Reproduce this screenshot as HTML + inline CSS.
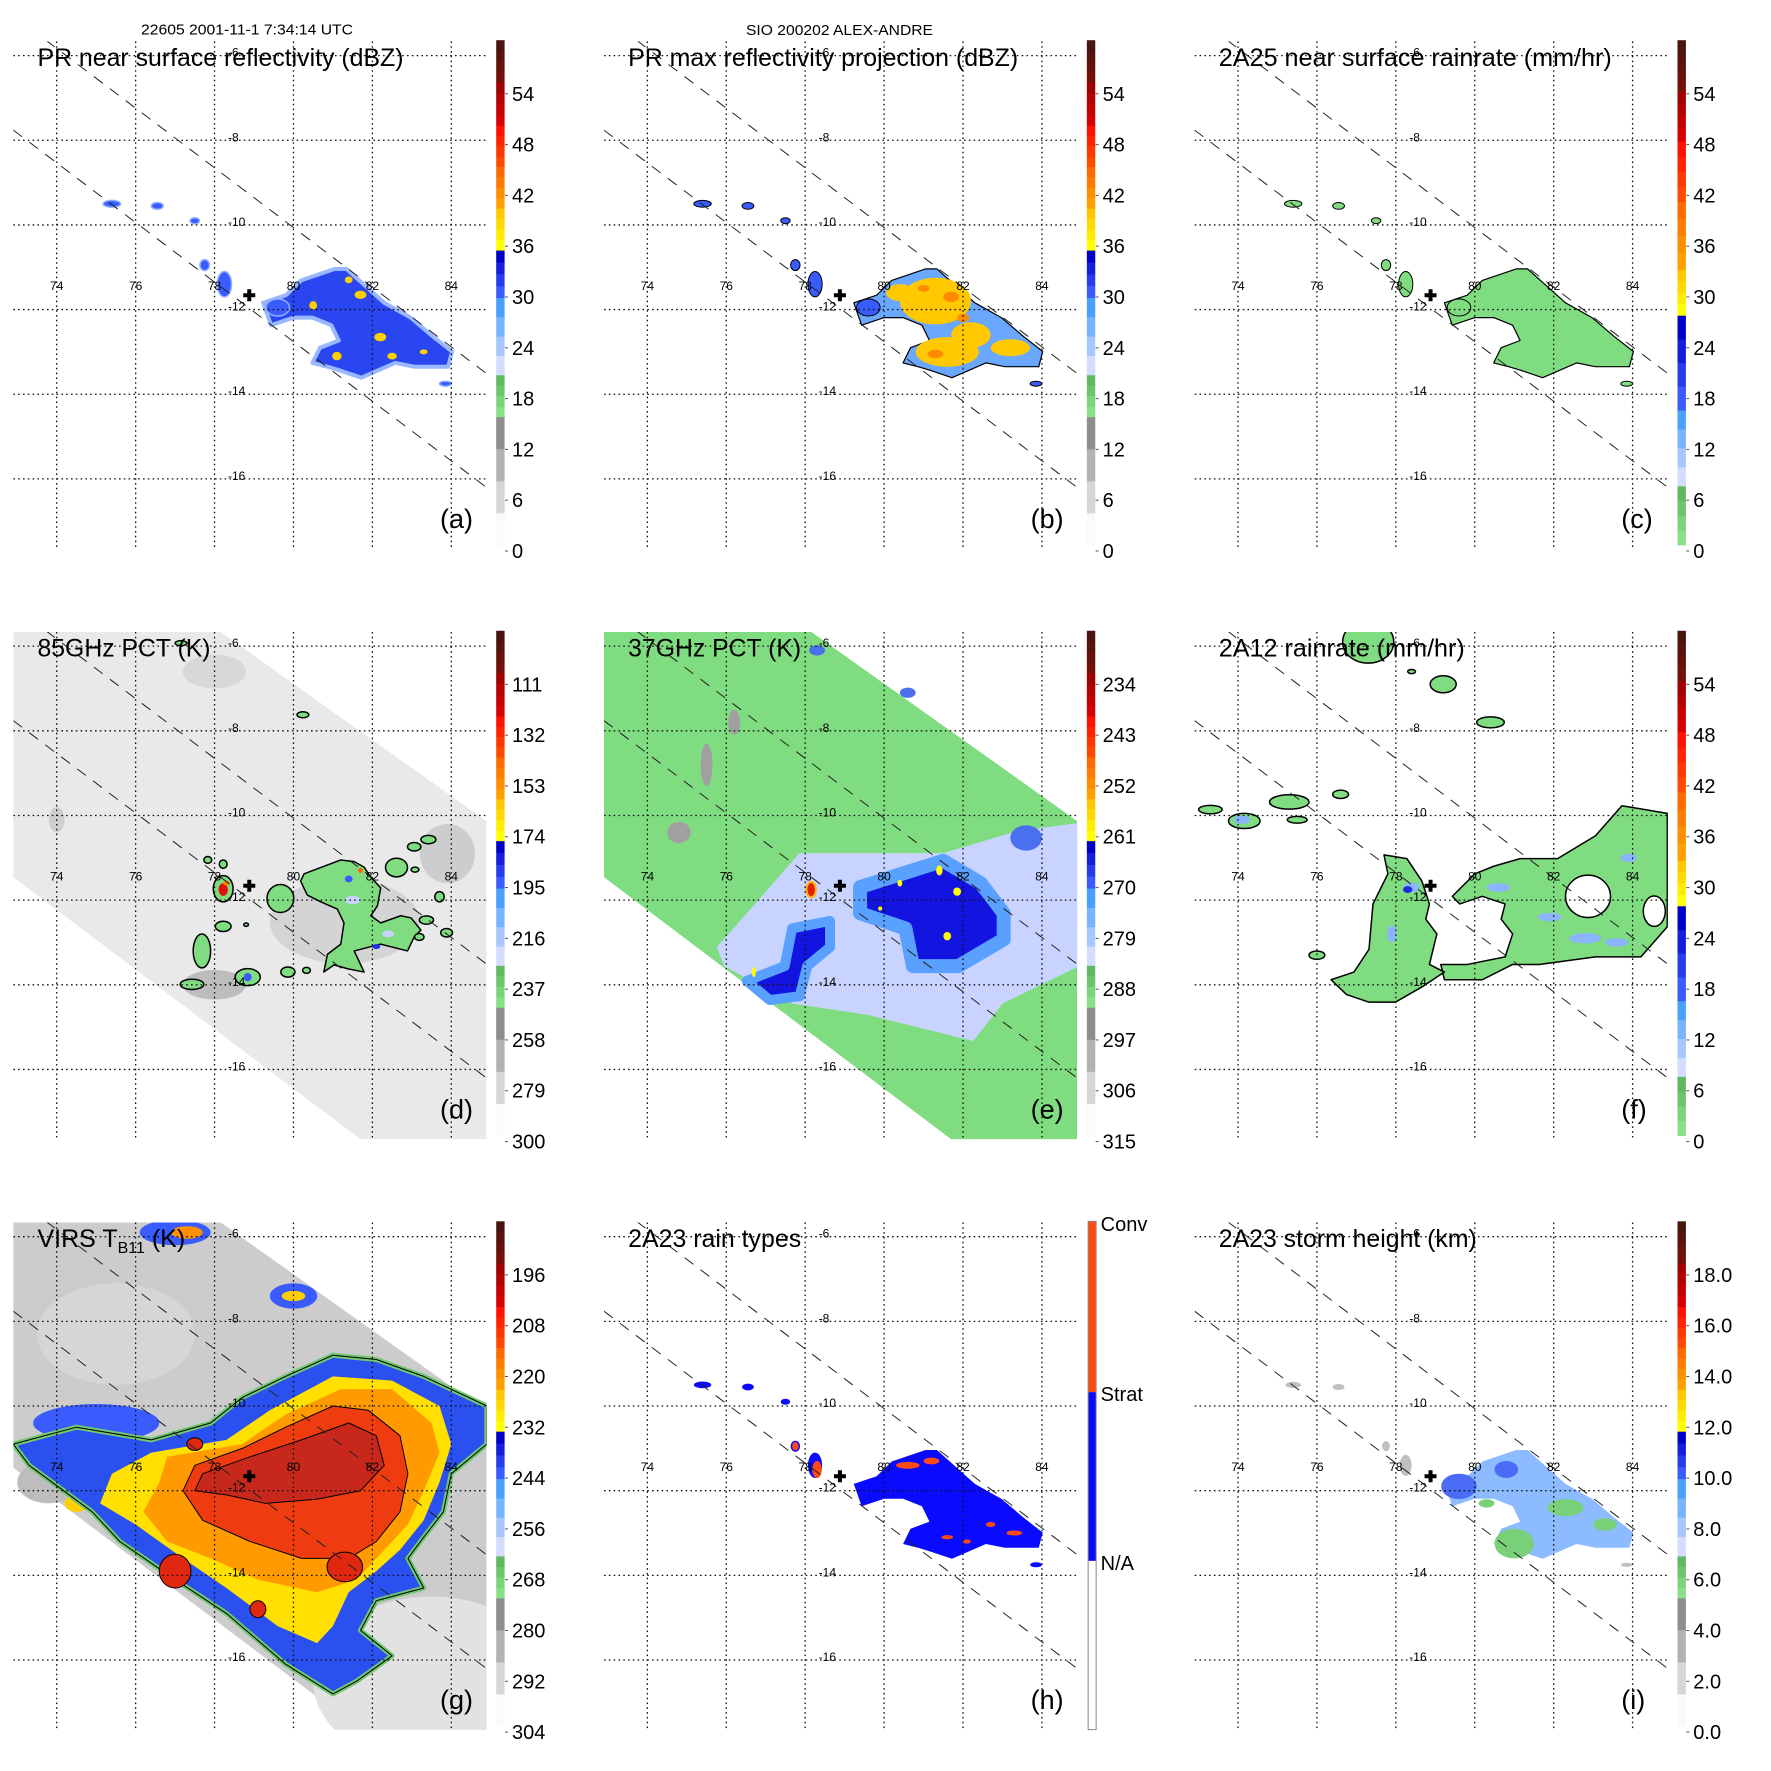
<!DOCTYPE html>
<html><head><meta charset="utf-8">
<style>
html,body{margin:0;padding:0;background:#fff;}
svg{display:block;font-family:"Liberation Sans",Arial,sans-serif;}
</style></head>
<body>
<svg id="fig" xmlns="http://www.w3.org/2000/svg" width="1771" height="1771" viewBox="0 0 1771 1771">
<rect x="0" y="0" width="1771" height="1771" fill="#fff"/>
<defs><clipPath id="mapclip"><rect x="13.4" y="41.4" width="473.2" height="507.3"/></clipPath></defs>
<text x="141" y="34.5" font-size="15" textLength="212" lengthAdjust="spacingAndGlyphs">22605 2001-11-1 7:34:14 UTC</text>
<text x="746" y="35" font-size="15" textLength="187" lengthAdjust="spacingAndGlyphs">SIO 200202 ALEX-ANDRE</text>
</svg>
<script>
const NS='http://www.w3.org/2000/svg';
// ---- axis ticks ----
const lonTicks=[74,76,78,80,82,84];
const latTicks=[-6,-8,-10,-12,-14,-16];
// ---- colorbar labels (top to bottom) ----
const dbzLabels=['54','48','42','36','30','24','18','12','6','0'];
const rainLabels=['54','48','42','36','30','24','18','12','6','0'];
const pct85Labels=['111','132','153','174','195','216','237','258','279','300'];
const pct37Labels=['234','243','252','261','270','279','288','297','306','315'];
const virsLabels=['196','208','220','232','244','256','268','280','292','304'];
const heightLabels=['18.0','16.0','14.0','12.0','10.0','8.0','6.0','4.0','2.0','0.0'];
const typeLabels=['Conv','Strat','N/A'];
// ---- geo features (lon, lat) ----
const stormCenter=[78.88,-11.66];
const swathLines=[[73.73,-5.64,84.89,-13.51],[72.9,-7.76,84.89,-16.2]];
const pmwSwath=[[72.89,-5.66],[78.15,-5.66],[84.89,-10.13],[84.89,-17.65],[81.7,-17.65],[72.89,-11.45]];
const prRegion=[[79.23,-11.84],[79.81,-11.66],[80.19,-11.31],[81.05,-11.04],[81.34,-11.04],[82.3,-11.84],[82.97,-12.19],[83.54,-12.64],[84.02,-12.99],[83.92,-13.35],[83.06,-13.35],[82.58,-13.26],[81.72,-13.61],[81.15,-13.43],[80.86,-13.35],[80.48,-13.26],[80.67,-12.9],[81.15,-12.73],[80.96,-12.37],[80.48,-12.19],[80.0,-12.19],[79.43,-12.37]];
const prSmall=[[77.75,-10.95,.12,.13],[78.25,-11.4,.18,.3],[75.4,-9.5,.22,.08],[76.55,-9.55,.15,.08],[77.5,-9.9,.12,.07],[83.85,-13.75,.15,.06],[79.6,-11.95,.3,.2]];
const aSpeck=[[81.7,-11.65,.15,.1],[82.2,-12.65,.15,.1],[81.1,-13.1,.12,.1],[80.5,-11.9,.1,.1],[82.5,-13.1,.12,.08],[81.4,-11.3,.1,.08],[83.3,-13.0,.1,.06]];
const bYellow=[[81.3,-11.8,.9,.55],[82.2,-12.6,.5,.3],[81.6,-13.0,.8,.35],[83.2,-12.9,.5,.2],[80.4,-11.6,.35,.2]];
const bOrange=[[81.7,-11.7,.2,.12],[81.3,-13.05,.2,.1],[82.0,-12.2,.15,.1],[78.2,-11.55,.08,.12],[81.0,-11.5,.15,.08]];
const hConv=[[80.6,-11.4,.3,.08],[81.2,-11.3,.2,.08],[82.7,-12.8,.12,.06],[83.3,-13.0,.2,.06],[81.6,-13.1,.15,.05],[82.1,-13.2,.1,.05],[78.3,-11.5,.12,.2],[77.75,-10.95,.08,.1]];
const iSmall=[[77.75,-10.95,.1,.12],[78.25,-11.4,.15,.25],[75.4,-9.5,.2,.07],[76.55,-9.55,.15,.07],[83.85,-13.75,.15,.05]];
const iGreen=[[81.0,-13.25,.5,.35],[82.3,-12.4,.45,.2],[83.3,-12.8,.3,.15],[80.3,-12.3,.2,.1]];
const iBlue=[[79.6,-11.9,.45,.3],[80.8,-11.5,.3,.2]];
const eLav=[[75.76,-13.11],[77.86,-10.89],[81.5,-10.89],[83.4,-10.36],[84.94,-10.18],[84.94,-13.56],[83.0,-14.44],[82.26,-15.33],[79.58,-14.71],[77.67,-14.44],[75.95,-13.56]];
const eCore=[[79.39,-11.69],[81.5,-11.07],[82.45,-11.6],[83.03,-12.31],[83.03,-12.93],[81.88,-13.56],[80.73,-13.56],[80.54,-12.67],[79.39,-12.31]];
const eArm=[[77.67,-12.67],[78.63,-12.49],[78.63,-13.11],[78.05,-13.56],[77.86,-14.27],[77.1,-14.36],[76.52,-13.91],[77.48,-13.56]];
const eYellow=[[81.4,-11.3,.08,.12],[81.85,-11.8,.1,.1],[81.6,-12.85,.1,.1],[80.4,-11.6,.06,.08],[76.7,-13.7,.05,.12],[79.9,-12.2,.05,.05]];
const eGray=[[74.8,-10.4,.3,.25],[75.5,-8.8,.15,.5],[76.2,-7.8,.15,.3]];
const eBlueExtra=[[83.6,-10.53,.4,.3],[78.3,-6.1,.2,.12],[80.6,-7.1,.2,.12]];
const dMain=[[80.27,-11.38],[81.2,-11.05],[81.54,-11.09],[81.79,-11.22],[81.96,-11.46],[82.21,-11.71],[82.13,-12.13],[81.96,-12.37],[82.21,-12.54],[82.72,-12.37],[82.98,-12.42],[83.23,-12.71],[83.06,-12.87],[82.89,-13.2],[82.55,-13.12],[82.21,-13.04],[81.87,-13.12],[81.54,-13.2],[81.79,-13.7],[81.37,-13.62],[81.03,-13.53],[80.77,-13.7],[80.86,-13.28],[81.2,-13.04],[81.28,-12.54],[81.11,-12.21],[80.69,-12.04],[80.35,-11.88],[80.18,-11.55]];
const dBlobs=[[79.67,-11.96,.34,.33],[78.22,-11.73,.25,.31],[77.83,-11.05,.1,.08],[78.22,-11.15,.1,.1],[78.22,-12.62,.2,.12],[77.68,-13.2,.22,.4],[77.43,-13.99,.3,.12],[78.84,-13.82,.32,.2],[79.86,-13.7,.18,.12],[80.33,-13.66,.1,.07],[82.61,-11.23,.28,.22],[83.06,-10.74,.17,.1],[83.42,-10.57,.19,.1],[83.08,-11.28,.1,.06],[83.7,-11.92,.12,.12],[83.37,-12.47,.18,.1],[83.88,-12.77,.15,.1],[83.19,-12.87,.12,.08],[80.24,-7.62,.15,.07],[77.15,-5.93,.15,.06],[78.8,-12.58,.06,.04]];
const dDark=[[78.0,-14.0,.8,.35,'#bdbdbd'],[81.3,-12.5,1.9,1.0,'#d4d4d4'],[83.9,-10.9,.7,.7,'#cdcdcd'],[78.0,-6.6,.8,.4,'#d8d8d8'],[74.0,-10.1,.2,.3,'#cfcfcf']];
const dSpecks=[[78.22,-11.75,.12,.15,'#e01010'],[78.3,-11.6,.08,.06,'#ff8000'],[81.4,-11.5,.1,.08,'#3a5cff'],[81.7,-11.3,.06,.06,'#ff6000'],[82.4,-12.8,.15,.08,'#c8d4ff'],[82.1,-13.1,.1,.06,'#1a30f0'],[81.5,-12.0,.2,.1,'#c8d4ff'],[78.84,-13.82,.1,.1,'#3a5cff']];
const fBig=[[79.43,-11.91],[80.0,-11.38],[80.48,-11.2],[81.15,-11.02],[82.1,-11.02],[83.06,-10.48],[83.73,-9.77],[84.88,-9.95],[84.88,-12.63],[84.21,-13.34],[83.06,-13.34],[81.63,-13.52],[80.96,-13.52],[80.19,-13.88],[79.23,-13.88],[79.14,-13.52],[79.81,-13.52],[80.77,-13.34],[80.96,-12.8],[80.67,-12.45],[80.77,-12.09],[80.19,-11.91],[79.62,-12.09]];
const fLeft=[[77.7,-10.93],[78.28,-11.02],[78.66,-11.55],[78.85,-12.09],[78.76,-12.45],[79.04,-12.8],[78.85,-13.52],[79.23,-13.7],[78.66,-14.05],[77.99,-14.41],[77.32,-14.41],[76.75,-14.23],[76.36,-13.88],[76.94,-13.7],[77.32,-13.16],[77.42,-12.09],[77.61,-11.73],[77.8,-11.38]];
const fHoles=[[82.87,-11.91,.57,.5],[84.55,-12.26,.28,.36]];
const fSmall=[[77.3,-5.9,.65,.5],[79.2,-6.9,.33,.2],[80.4,-7.8,.35,.13],[75.3,-9.68,.5,.17],[74.16,-10.13,.4,.18],[73.3,-9.86,.3,.1],[76.6,-9.5,.2,.1],[75.5,-10.1,.25,.08],[76.0,-13.3,.2,.1],[78.4,-6.6,.1,.05]];
const fBlue=[[78.4,-11.7,.2,.12],[77.9,-12.8,.12,.2],[80.6,-11.7,.3,.1],[82.8,-12.9,.4,.12],[83.6,-13.0,.3,.1],[81.9,-12.4,.3,.1],[83.9,-11.0,.2,.1],[74.1,-10.1,.2,.1]];
const gBlue=[[72.9,-10.9],[74.5,-10.5],[76.4,-10.8],[77.9,-10.4],[78.7,-9.8],[79.8,-9.3],[81.0,-8.8],[82.1,-8.9],[83.3,-9.3],[84.9,-10.0],[84.9,-10.9],[84.0,-11.6],[83.8,-12.5],[83.3,-13.1],[82.9,-13.6],[83.3,-14.3],[82.1,-14.6],[81.7,-15.3],[82.5,-15.9],[81.6,-16.5],[81.0,-16.8],[79.8,-16.1],[78.3,-14.9],[77.0,-14.1],[75.6,-13.2],[74.9,-12.5],[73.3,-11.4]];
const gYellow=[[76.4,-11.1],[78.3,-10.8],[79.4,-10.1],[81.0,-9.3],[82.5,-9.4],[83.7,-10.0],[84.0,-10.9],[83.7,-11.8],[83.3,-12.7],[82.7,-13.4],[82.1,-13.9],[81.4,-14.4],[81.0,-15.2],[80.6,-15.6],[79.6,-15.2],[78.3,-14.3],[77.2,-13.6],[76.0,-12.8],[75.1,-12.3],[75.4,-11.6]];
const gOrange=[[76.8,-11.2],[78.7,-10.9],[79.8,-10.2],[81.2,-9.6],[82.5,-9.6],[83.5,-10.4],[83.7,-11.1],[83.3,-12.0],[82.9,-12.8],[82.1,-13.6],[81.6,-14.1],[80.6,-14.4],[79.1,-14.1],[77.9,-13.6],[76.8,-13.2],[76.2,-12.5],[76.6,-11.8]];
const gRed=[[77.5,-11.4],[78.7,-11.0],[79.8,-10.5],[81.0,-10.0],[81.9,-10.1],[82.7,-10.7],[82.9,-11.6],[82.7,-12.5],[82.1,-13.2],[81.4,-13.6],[80.2,-13.6],[78.9,-13.2],[77.7,-12.7],[77.2,-12.0]];
const gDark=[[77.7,-11.6],[78.9,-11.2],[80.2,-10.8],[81.4,-10.4],[82.1,-10.7],[82.3,-11.4],[81.7,-12.0],[80.6,-12.2],[79.3,-12.3],[78.3,-12.1],[77.5,-12.0]];
const gExtraRed=[[77.0,-13.9,.4,.4],[81.3,-13.8,.45,.35],[79.1,-14.8,.2,.2],[77.5,-10.9,.2,.15]];
const gStrands=[[75.0,-10.4,1.6,.45,'#3a5cff'],[77.0,-5.9,.9,.3,'#3a5cff'],[80.0,-7.4,.6,.3,'#3a5cff'],[80.0,-7.4,.3,.12,'#ffd000'],[77.3,-5.9,.4,.15,'#ff9000'],[74.5,-12.3,.3,.2,'#ffd000']];
const gLight=[[83.5,-16.5,3,2,'#e2e2e2'],[75.5,-8.3,2,1.2,'#d6d6d6'],[73.8,-11.8,.8,.5,'#bdbdbd']];

// ---- axis functions ----
const PX0=56.7,PXS=39.46,PY0=55.6,PYS=42.33;
function lonX(l){return PX0+(l-74)*PXS;}
function latY(t){return PY0+(-6-t)*PYS;}

const svg=document.getElementById('fig');
function mk(parent,tag,attrs){const e=document.createElementNS(NS,tag);for(const k in attrs)e.setAttribute(k,attrs[k]);parent.appendChild(e);return e;}
function ptsStr(pts){return pts.map(p=>lonX(p[0]).toFixed(1)+','+latY(p[1]).toFixed(1)).join(' ');}
function poly(g,pts,fill,stroke,sw,name){
  const e=mk(g,'polygon',{points:ptsStr(pts),fill:fill,stroke:stroke||'none','stroke-width':sw||0,'stroke-linejoin':'round'});
  
  
  return e;
}
function blobs(g,arr,fill,stroke,sw,name){
  arr.forEach(b=>{
    const e=mk(g,'ellipse',{cx:lonX(b[0]).toFixed(1),cy:latY(b[1]).toFixed(1),rx:(b[2]*PXS).toFixed(1),ry:(b[3]*PYS).toFixed(1),fill:b[4]||fill,stroke:stroke||'none','stroke-width':sw||0});
    
    
  });
}
function hexToRgb(h){return [parseInt(h.substr(1,2),16),parseInt(h.substr(3,2),16),parseInt(h.substr(5,2),16)];}
function mix(a,b,t){const A=hexToRgb(a),B=hexToRgb(b);return 'rgb('+A.map((v,i)=>Math.round(v+(B[i]-v)*t)).join(',')+')';}

const stdBands=[[0,.254,'#fafafa','#8e8e8e'],[.254,.337,'#88e088','#60b860'],[.337,.49,'#d4dcff','#4aa0ff'],[.49,.584,'#3a5cff','#0000c8'],[.584,.667,'#ffff00','#ffc800'],[.667,.75,'#ffa000','#ff6a00'],[.75,.831,'#ff4a00','#ff1000'],[.831,.917,'#d80000','#a00000'],[.917,1,'#741008','#4a1410']];
const rainBands=[[0,.117,'#88e088','#60b860'],[.117,.267,'#d4dcff','#4aa0ff'],[.267,.455,'#3a5cff','#0000c8'],[.455,.545,'#ffff00','#ffc800'],[.545,.68,'#ffa000','#ff6a00'],[.68,.8,'#ff4a00','#ff1000'],[.8,.9,'#d80000','#a00000'],[.9,1,'#741008','#4a1410']];
const typeBands=[[0,.332,'#ffffff','#ffffff'],[.332,.664,'#0a0aff','#0a0aff'],[.664,1,'#ff4a10','#ff4a10']];

function colorbar(g,bands,labels){
  const top=40.2,bot=545,H=bot-top,x=496.2,w=8.4;
  bands.forEach(b=>{
    const n=(b[2]===b[3])?1:4;
    for(let i=0;i<n;i++){
      const f0=b[0]+(b[1]-b[0])*i/n,f1=b[0]+(b[1]-b[0])*(i+1)/n;
      const r=mk(g,'rect',{x:x,y:(bot-f1*H).toFixed(2),width:w,height:((f1-f0)*H+0.4).toFixed(2),fill:mix(b[2],b[3],n===1?0:i/(n-1))});
      
      
    }
  });
  labels.forEach((lab,k)=>{
    const y=551-(labels.length-1-k)*50.8;
    const tk=mk(g,'line',{x1:505,x2:508,y1:y,y2:y,stroke:'#555','stroke-width':1});
    
    
    const t=mk(g,'text',{x:512,y:(y+7).toFixed(1),'font-size':20});
    t.textContent=lab;
    
    
  });
}
function typeColorbar(g){
  const top=40.2,bot=548.5,H=bot-top,x=497.5,w=8;
  typeBands.forEach(b=>{
    const r=mk(g,'rect',{x:x,y:bot-b[1]*H,width:w,height:(b[1]-b[0])*H,fill:b[2]});
    
    
  });
  const o=mk(g,'rect',{x:x,y:top,width:w,height:H,fill:'none',stroke:'#888','stroke-width':1});
  
  
  const ys=[50,220,389];
  typeLabels.forEach((lab,k)=>{
    const t=mk(g,'text',{x:510,y:ys[k],'font-size':20});
    t.textContent=lab;
    
    
  });
}

function mapFrame(g){
  lonTicks.forEach(l=>{
    const e=mk(g,'line',{x1:lonX(l),x2:lonX(l),y1:41.4,y2:548.7,stroke:'#111','stroke-width':1.3,'stroke-dasharray':'1.6 3.2'});
    
    
  });
  latTicks.forEach(t=>{
    const e=mk(g,'line',{x1:13.4,x2:486.6,y1:latY(t),y2:latY(t),stroke:'#111','stroke-width':1.3,'stroke-dasharray':'1.6 3.2'});
    
    
  });
  const cg=mk(g,'g',{'clip-path':'url(#mapclip)'});
  swathLines.forEach(s=>{
    const e=mk(cg,'line',{x1:lonX(s[0]),y1:latY(s[1]),x2:lonX(s[2]),y2:latY(s[3]),stroke:'#222','stroke-width':1,'stroke-dasharray':'11 9'});
    
    
  });
  lonTicks.forEach(l=>{
    const e=mk(g,'text',{x:lonX(l),y:290,'font-size':12,'text-anchor':'middle'});
    e.textContent=String(l);
    
    
  });
  latTicks.forEach(t=>{
    const e=mk(g,'text',{x:228,y:latY(t)+1,'font-size':12});
    e.textContent=String(t);
    
    
  });
  const cx=lonX(stormCenter[0]),cy=latY(stormCenter[1]);
  const p=mk(g,'path',{d:`M${cx-6},${cy} H${cx+6} M${cx},${cy-6} V${cy+6}`,stroke:'#000','stroke-width':4});
  
  
}

const panels=[
 {id:'a',col:0,row:0,title:'PR near surface reflectivity (dBZ)',tl:366,labels:dbzLabels,bands:stdBands},
 {id:'b',col:1,row:0,title:'PR max reflectivity projection (dBZ)',tl:390,labels:dbzLabels,bands:stdBands},
 {id:'c',col:2,row:0,title:'2A25 near surface rainrate (mm/hr)',tl:393,labels:rainLabels,bands:rainBands},
 {id:'d',col:0,row:1,title:'85GHz PCT (K)',tl:173,labels:pct85Labels,bands:stdBands},
 {id:'e',col:1,row:1,title:'37GHz PCT (K)',tl:173,labels:pct37Labels,bands:stdBands},
 {id:'f',col:2,row:1,title:'2A12 rainrate (mm/hr)',tl:246,labels:rainLabels,bands:rainBands},
 {id:'g',col:0,row:2,title:null,tl:0,labels:virsLabels,bands:stdBands},
 {id:'h',col:1,row:2,title:'2A23 rain types',tl:173,labels:null,bands:null},
 {id:'i',col:2,row:2,title:'2A23 storm height (km)',tl:258,labels:heightLabels,bands:stdBands}
];

function drawData(id,d){
  if(id==='a'){
    poly(d,prRegion,'#2a46f0','#9ab8ff',4,'reflectivity-area');
    blobs(d,prSmall,'#3a5cff','#8fb0ff',1.5,'reflectivity-cell');
    blobs(d,aSpeck,'#ffd000',null,0,'reflectivity-core');
  } else if(id==='b'){
    poly(d,prRegion,'#6aa8ff','#000',1.2,'max-reflectivity-area');
    blobs(d,bYellow,'#ffc800',null,0,'max-reflectivity-core');
    blobs(d,bOrange,'#ff8a00',null,0,'max-reflectivity-peak');
    blobs(d,prSmall,'#3a5cff','#000',1,'max-reflectivity-cell');
  } else if(id==='c'){
    poly(d,prRegion,'#80dc80','#000',1.2,'pr-rain-area');
    blobs(d,prSmall,'#80dc80','#000',1,'pr-rain-cell');
  } else if(id==='h'){
    poly(d,prRegion,'#0a0aff',null,0,'stratiform-area');
    blobs(d,prSmall,'#0a0aff',null,0,'stratiform-cell');
    blobs(d,hConv,'#ff4a10',null,0,'convective-cell');
  } else if(id==='i'){
    poly(d,prRegion,'#8cbcff',null,0,'storm-height-area');
    blobs(d,iGreen,'#78d078',null,0,'storm-height-low');
    blobs(d,iBlue,'#4a6cf4',null,0,'storm-height-high');
    blobs(d,iSmall,'#c0c0c0',null,0,'storm-height-cell');
  } else if(id==='d'){
    poly(d,pmwSwath,'#e9e9e9',null,0,'pct85-swath');
    blobs(d,dDark,'#b0b0b0',null,0,'pct85-cold-area');
    poly(d,dMain,'#80dc80','#000',1.5,'pct85-scattering-area');
    blobs(d,dBlobs,'#80dc80','#000',1.5,'pct85-scattering-cell');
    blobs(d,dSpecks,'#e01010',null,0,'pct85-deep-core');
  } else if(id==='e'){
    poly(d,pmwSwath,'#80dc80',null,0,'pct37-swath');
    blobs(d,eGray,'#a0a0a0',null,0,'pct37-warm-patch');
    poly(d,eLav,'#c8d4ff',null,0,'pct37-light-area');
    poly(d,eCore,'#1414e0','#5aa0ff',14,'pct37-core-area');
    poly(d,eArm,'#1414e0','#5aa0ff',10,'pct37-arm-area');
    blobs(d,eBlueExtra,'#4a70f0',null,0,'pct37-cell');
    blobs(d,eYellow,'#ffff00',null,0,'pct37-peak');
    blobs(d,[[78.15,-11.75,.12,.18]],'#e02000','#ffb000',2,'pct37-deep-core');
  } else if(id==='f'){
    blobs(d,fSmall,'#80dc80','#000',1.5,'tmi-rain-cell');
    poly(d,fBig,'#80dc80','#000',1.5,'tmi-rain-area-east');
    poly(d,fLeft,'#80dc80','#000',1.5,'tmi-rain-area-west');
    blobs(d,fHoles,'#ffffff','#000',1.5,'tmi-rain-hole');
    blobs(d,fBlue,'#8ab4ff',null,0,'tmi-rain-heavy');
    blobs(d,[[78.3,-11.75,.12,.08]],'#1a2ae0',null,0,'tmi-rain-max');
  } else if(id==='g'){
    poly(d,pmwSwath,'#cccccc',null,0,'virs-swath');
    blobs(d,gLight,'#dadada',null,0,'virs-warm-area');
    blobs(d,gStrands,'#3a5cff',null,0,'virs-cloud-band');
    poly(d,gBlue,'#2a50f0','#70c870',5,'virs-cloud-edge');
    poly(d,gBlue,'none','#000',1,'virs-cloud-contour');
    poly(d,gYellow,'#ffe000',null,0,'virs-cold-area');
    poly(d,gOrange,'#ff9a00',null,0,'virs-colder-area');
    poly(d,gRed,'#ee3c10','#000',1,'virs-coldest-area');
    blobs(d,gExtraRed,'#e02810','#000',1,'virs-cold-cell');
    poly(d,gDark,'#c8281c','#000',1,'virs-overshooting-core');
  }
}

panels.forEach(p=>{
  const g=mk(svg,'g',{transform:`translate(${(p.col*590.65).toFixed(2)},${(p.row*590.55).toFixed(2)})`});
  
  
  const d=mk(g,'g',{'clip-path':'url(#mapclip)'});
  
  
  drawData(p.id,d);
  mapFrame(g);
  if(p.title){
    const t=mk(g,'text',{x:37.5,y:66,'font-size':25,textLength:p.tl,lengthAdjust:'spacingAndGlyphs'});
    t.textContent=p.title;
    
    
  } else {
    const t=mk(g,'text',{x:37.5,y:66,'font-size':25});
    
    
    const s1=mk(t,'tspan',{});s1.textContent='VIRS T';
    const s2=mk(t,'tspan',{'font-size':16,dy:6});s2.textContent='B11';
    const s3=mk(t,'tspan',{dy:-6});s3.textContent=' (K)';
  }
  const L=mk(g,'text',{x:440,y:528,'font-size':27});
  L.textContent='('+p.id+')';
  
  
  const cb=mk(g,'g',{});
  
  
  if(p.bands) colorbar(cb,p.bands,p.labels); else typeColorbar(cb);
});
</script>
</body></html>
